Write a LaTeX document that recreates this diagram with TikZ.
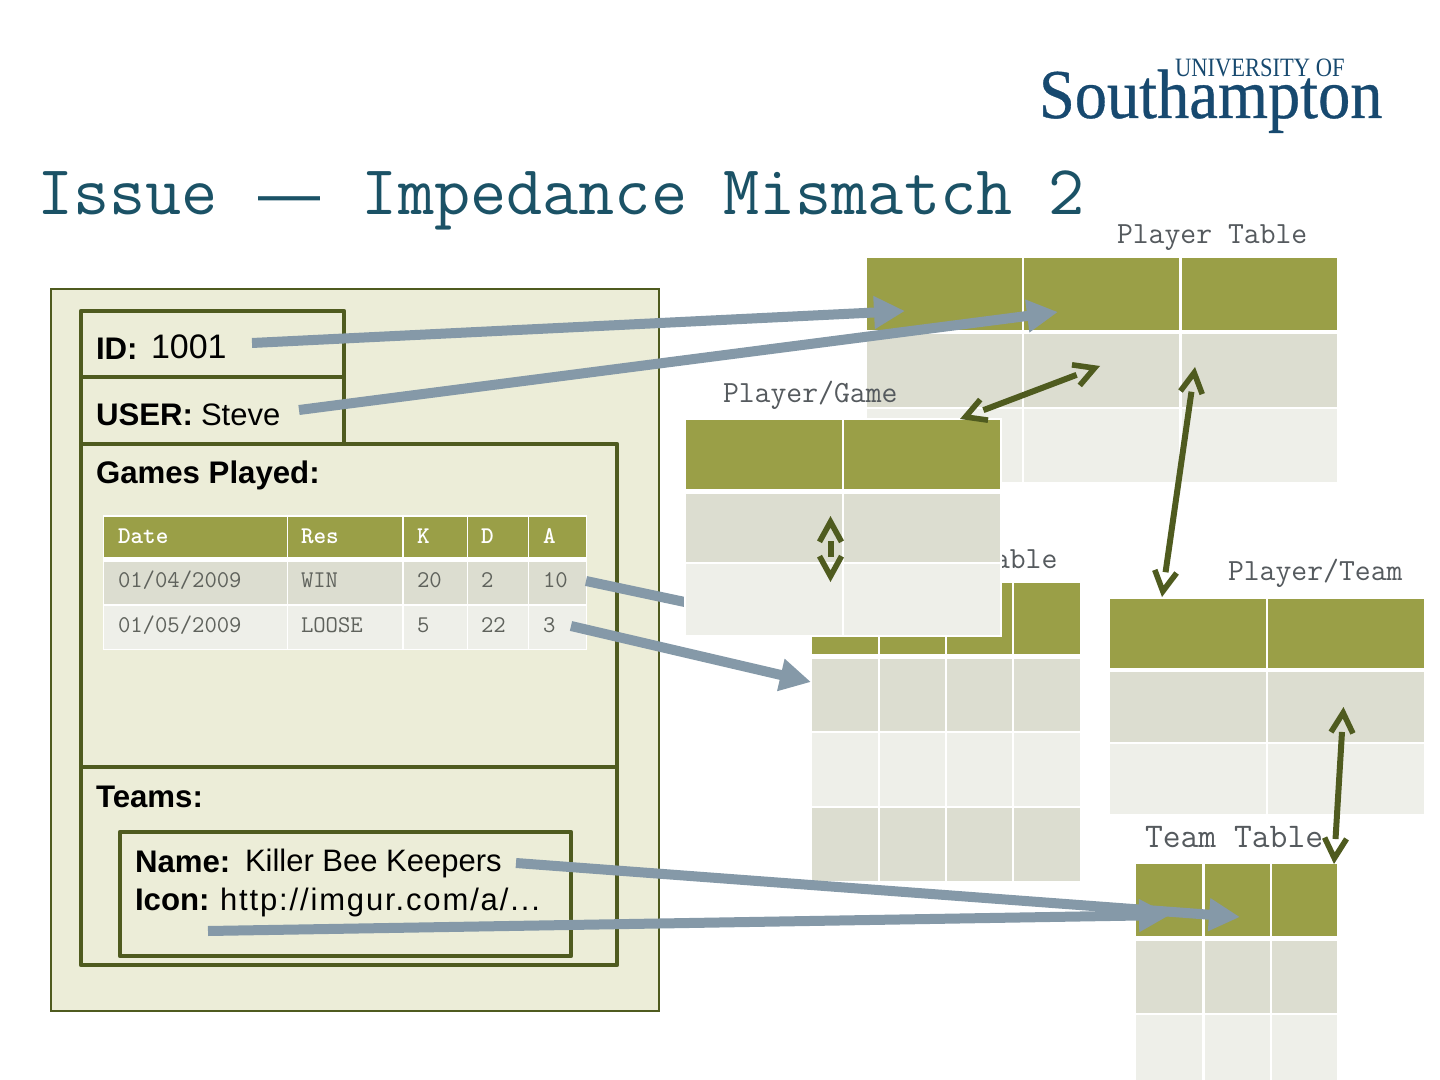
\documentclass[tikz,border=0pt]{standalone}
\usepackage{fontspec}
\setmainfont{Liberation Sans}
\newfontfamily\logofont{Liberation Serif}
\newfontfamily\logobold[FakeBold=0.5]{Liberation Serif}
\usetikzlibrary{arrows.meta}
\definecolor{hdr}{HTML}{9A9F47}
\definecolor{rowd}{HTML}{DCDDD0}
\definecolor{rowl}{HTML}{EEEFE9}
\definecolor{panelbg}{HTML}{ECEDD8}
\definecolor{oliveline}{HTML}{4F5B1F}
\definecolor{greyarrow}{HTML}{8599A8}
\definecolor{titleblue}{HTML}{1B5266}
\definecolor{logoblue}{HTML}{17496F}
\definecolor{labelgrey}{HTML}{555A5E}
\definecolor{celltext}{HTML}{5F625C}
\newcommand{\cellbox}[5]{\fill[#5] (#1,#3) rectangle (#2,#4);}
\tikzset{
  every node/.style={inner sep=0pt,outer sep=0pt,anchor=base west},
  bold label/.style={font=\fontsize{15.6pt}{18pt}\selectfont\bfseries,text=black},
  plain label/.style={font=\fontsize{15.5pt}{18pt}\selectfont,text=black},
  tab label/.style={font=\fontsize{15.4pt}{18pt}\selectfont\ttfamily,text=labelgrey},
  head text/.style={font=\fontsize{12pt}{14pt}\selectfont\ttfamily\bfseries,text=white},
  cell text/.style={font=\fontsize{12pt}{14pt}\selectfont\ttfamily,text=celltext},
  boxline/.style={draw=oliveline,line width=2.3pt,line join=round},
  map arrow/.style={draw=greyarrow,line width=5pt,-{Triangle[length=15.5pt,width=15.5pt]}},
  rel shaft/.style={draw=oliveline,line width=3pt,shorten >=12.5pt,shorten <=12.5pt},
  rel tips/.style={color=oliveline,tips=true,
    {Straight Barb[length=10pt,width=11pt,line width=2.8pt]}-{Straight Barb[length=10pt,width=11pt,line width=2.8pt]}},
}
\begin{document}
\begin{tikzpicture}[x=0.5pt,y=-0.5pt]
\useasboundingbox (0,0) rectangle (1440,1080);
\fill[white] (0,0) rectangle (1440,1080);
% logo
\node[font=\logobold\fontsize{35pt}{35pt}\selectfont,text=logoblue] (logomain) at (1039,118) {\scalebox{0.92}[1]{Southampton}};
\node[font=\logofont\fontsize{13.25pt}{14pt}\selectfont,text=logoblue] (logotop) at (1175,77) {\scalebox{0.85}[1]{UNIVERSITY OF}};
% title
\node[font=\fontsize{35.1pt}{40pt}\selectfont\ttfamily,text=titleblue] (title) at (37,215) {Issue {\makebox[35.9pt][c]{\rmfamily\fontsize{31pt}{40pt}\selectfont —}} Impedance Mismatch 2};
% left panel
\fill[panelbg] (51,289) rectangle (659,1011);
\draw[draw=oliveline,line width=1pt] (51,289) rectangle (659,1011);
\draw[boxline] (81,311) rectangle (344,377);
\draw[boxline] (81,377) rectangle (344,444);
\draw[boxline] (81,444) rectangle (617,767);
\draw[boxline] (81,767) rectangle (617,965);
\draw[boxline] (120,832) rectangle (571,956);
\node[bold label] (idk) at (96,360) {ID:};
\node[font=\fontsize{17pt}{20pt}\selectfont,text=black] (idv) at (151,359) {1001};
\node[bold label] (userk) at (96,426) {USER:};
\node[plain label] (userv) at (201,426) {Steve};
\node[bold label] (games) at (96,483) {Games Played:};
\node[bold label] (teams) at (96,807) {Teams:};
\node[bold label] (namek) at (135,872) {Name:};
\node[plain label] (namev) at (245,871) {Killer Bee Keepers};
\node[bold label] (iconk) at (135,910) {Icon:};
\node[plain label] (iconv) at (220,910) {\addfontfeature{LetterSpace=6}http://imgur.com/a/...};
% inner games table
\fill[white] (103,515) rectangle (587,650);
\foreach \a/\b [count=\i] in {104/286.5,288/402,404/466.5,468/527.5,529/586}{
  \fill[hdr] (\a,517) rectangle (\b,557);
  \fill[rowd] (\a,562) rectangle (\b,604);
  \fill[rowl] (\a,606) rectangle (\b,649);
}
\node[head text] (h1) at (118,543) {Date};
\node[head text] (h2) at (301,543) {Res};
\node[head text] (h3) at (417,543) {K};
\node[head text] (h4) at (481,543) {D};
\node[head text] (h5) at (543,543) {A};
\node[cell text] (a1) at (118,587) {01/04/2009};
\node[cell text] (a2) at (301,587) {WIN};
\node[cell text] (a3) at (417,587) {20};
\node[cell text] (a4) at (481,587) {2};
\node[cell text] (a5) at (543,587) {10};
\node[cell text] (b1) at (118,632) {01/05/2009};
\node[cell text] (b2) at (301,632) {LOOSE};
\node[cell text] (b3) at (417,632) {5};
\node[cell text] (b4) at (481,632) {22};
\node[cell text] (b5) at (543,632) {3};
% player table
\node[tab label] (lplayer) at (1117,244) {Player Table};
\foreach \a/\b in {867/1022,1024/1179,1182/1337}{
  \cellbox{\a}{\b}{258}{330}{hdr}
  \cellbox{\a}{\b}{334}{407}{rowd}
  \cellbox{\a}{\b}{409}{482}{rowl}
}
% game table
\node[tab label] (lgame) at (994,568) {able};
\foreach \a/\b in {812/878,880/945,947/1012,1014/1080}{
  \cellbox{\a}{\b}{583}{654}{hdr}
  \cellbox{\a}{\b}{659}{731}{rowd}
  \cellbox{\a}{\b}{733}{806}{rowl}
  \cellbox{\a}{\b}{808}{881}{rowd}
}
% player/team table
\node[tab label] (lpt) at (1228,580) {Player/Team};
\foreach \a/\b in {1110/1266,1268/1424}{
  \cellbox{\a}{\b}{599}{668}{hdr}
  \cellbox{\a}{\b}{672}{742}{rowd}
  \cellbox{\a}{\b}{744}{814}{rowl}
}
% team table
\node[font=\fontsize{17.3pt}{20pt}\selectfont\ttfamily,text=labelgrey] (lteam) at (1145,847) {Team Table};
\foreach \a/\b in {1136/1202,1205/1270,1272/1337}{
  \cellbox{\a}{\b}{864}{936}{hdr}
  \cellbox{\a}{\b}{941}{1013}{rowd}
  \cellbox{\a}{\b}{1015}{1080}{rowl}
}
% connector ends
\coordinate (c1a) at (252,343); \coordinate (c1b) at (905,311);
\coordinate (c2a) at (299,410); \coordinate (c2b) at (1058,312);
\coordinate (c3a) at (586,581); \coordinate (c3b) at (760,618);
\coordinate (c4a) at (571,626); \coordinate (c4b) at (811,682);
\coordinate (c5a) at (516,863); \coordinate (c5b) at (1240,917);
\coordinate (c6a) at (208,931); \coordinate (c6b) at (1170,915);
\draw[map arrow] (c1a) -- (c1b);
\draw[map arrow] (c2a) -- (c2b);
\draw[draw=greyarrow,line width=5pt] (c3a) -- (c3b);
\draw[map arrow] (c4a) -- (c4b);
\draw[map arrow] (c5a) -- (c5b);
\draw[map arrow] (c6a) -- (c6b);
% player/game table, on top
\node[tab label] (lpg) at (723,403) {Player/Game};
\fill[white] (684,418) rectangle (1002,637);
\foreach \a/\b in {686/842,844/1000}{
  \cellbox{\a}{\b}{420}{489}{hdr}
  \cellbox{\a}{\b}{494}{562}{rowd}
  \cellbox{\a}{\b}{564}{635}{rowl}
}
% relation arrows
\coordinate (r1a) at (960,419); \coordinate (r1b) at (1100,366);
\coordinate (r2a) at (1195,367); \coordinate (r2b) at (1162,597);
\coordinate (r3a) at (830.5,516); \coordinate (r3b) at (830.5,582);
\coordinate (r4a) at (1343.5,707); \coordinate (r4b) at (1334,864);
\foreach \p/\q in {r1a/r1b,r2a/r2b,r3a/r3b,r4a/r4b}{
  \draw[rel shaft] (\p) -- (\q);
  \path[rel tips] (\p) -- (\q);
}
\end{tikzpicture}
\end{document}
